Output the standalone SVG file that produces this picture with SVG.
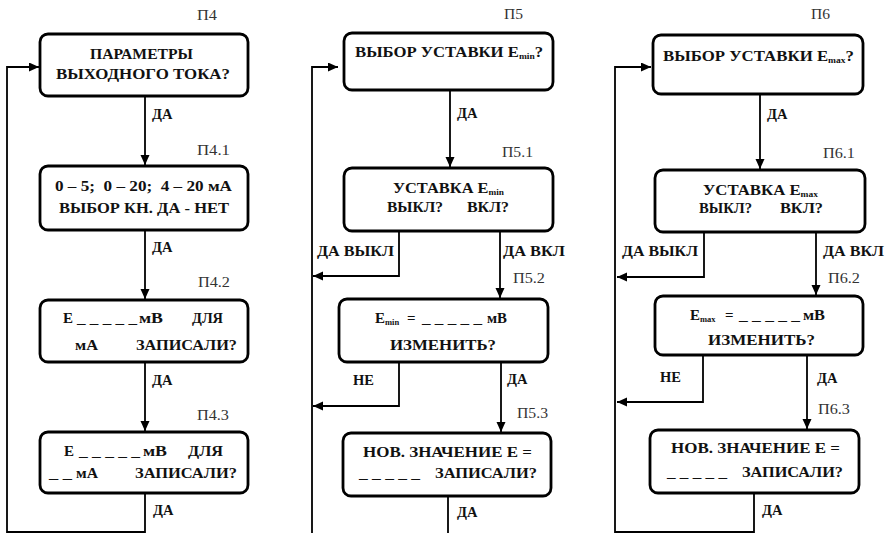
<svg xmlns="http://www.w3.org/2000/svg" width="894" height="533" viewBox="0 0 894 533">
  <defs>
    <marker id="arr" markerUnits="userSpaceOnUse" markerWidth="11" markerHeight="10" refX="10" refY="4.5" orient="auto">
      <path d="M0,0 L10,4.5 L0,9 z" fill="#000"/>
    </marker>
    <style>
      .box { fill: #fff; stroke: #000; stroke-width: 2.8; }
      .t { font-family: "Liberation Serif", "DejaVu Serif", serif; font-weight: bold; font-size: 15px; fill: #111; }
      .sub { font-family: "Liberation Serif", "DejaVu Serif", serif; font-weight: bold; font-size: 8.5px; fill: #111; }
      .lbl { font-family: "Liberation Serif", "DejaVu Serif", serif; font-weight: bold; font-size: 14.5px; fill: #111; }
      .id { font-family: "Liberation Serif", "DejaVu Serif", serif; font-size: 14px; fill: #333; }
      .c { fill: none; stroke: #000; stroke-width: 1.8; }
    </style>
  </defs>
  <rect width="894" height="533" fill="#fff"/>

  <!-- connectors -->
  <g id="connectors">
    <path class="c" d="M145,96 V165" marker-end="url(#arr)"/>
    <path class="c" d="M145,230 V299" marker-end="url(#arr)"/>
    <path class="c" d="M145,362 V431" marker-end="url(#arr)"/>
    <path class="c" d="M145,493 V532 H7 V67 H39" marker-end="url(#arr)"/>

    <path class="c" d="M450,90 V167" marker-end="url(#arr)"/>
    <path class="c" d="M399,231 V276 H313" marker-end="url(#arr)"/>
    <path class="c" d="M500,231 V298" marker-end="url(#arr)"/>
    <path class="c" d="M399,362 V406 H313" marker-end="url(#arr)"/>
    <path class="c" d="M501,362 V432" marker-end="url(#arr)"/>
    <path class="c" d="M448,496 V533"/>
    <path class="c" d="M312,533 V67 H338" marker-end="url(#arr)"/>

    <path class="c" d="M760,94 V169" marker-end="url(#arr)"/>
    <path class="c" d="M704,232 V277 H617" marker-end="url(#arr)"/>
    <path class="c" d="M816,232 V295" marker-end="url(#arr)"/>
    <path class="c" d="M703,355 V402 H617" marker-end="url(#arr)"/>
    <path class="c" d="M807,355 V429" marker-end="url(#arr)"/>
    <path class="c" d="M754,493 V532 H615 V67 H651" marker-end="url(#arr)"/>

    <text class="lbl" x="152" y="119">ДА</text>
    <text class="lbl" x="152" y="252">ДА</text>
    <text class="lbl" x="152" y="385">ДА</text>
    <text class="lbl" x="153" y="515">ДА</text>

    <text class="lbl" x="457" y="118">ДА</text>
    <text class="lbl" x="317" y="256" textLength="77" lengthAdjust="spacingAndGlyphs">ДА ВЫКЛ</text>
    <text class="lbl" x="503" y="256" textLength="62" lengthAdjust="spacingAndGlyphs">ДА ВКЛ</text>
    <text class="lbl" x="353" y="385">НЕ</text>
    <text class="lbl" x="507" y="384">ДА</text>
    <text class="lbl" x="457" y="517">ДА</text>

    <text class="lbl" x="767" y="119">ДА</text>
    <text class="lbl" x="622" y="256" textLength="76" lengthAdjust="spacingAndGlyphs">ДА ВЫКЛ</text>
    <text class="lbl" x="823" y="256" textLength="61" lengthAdjust="spacingAndGlyphs">ДА ВКЛ</text>
    <text class="lbl" x="660" y="382">НЕ</text>
    <text class="lbl" x="817" y="383">ДА</text>
    <text class="lbl" x="762" y="515">ДА</text>
  </g>

  <!-- column П4 -->
  <g id="p4">
    <text class="id" x="197" y="20" textLength="20" lengthAdjust="spacingAndGlyphs">П4</text>
    <rect class="box" x="40" y="34" width="208" height="62" rx="8"/>
    <text class="t" x="90" y="59" textLength="103" lengthAdjust="spacingAndGlyphs">ПАРАМЕТРЫ</text>
    <text class="t" x="56" y="79" textLength="174" lengthAdjust="spacingAndGlyphs">ВЫХОДНОГО ТОКА?</text>
  </g>
  <g id="p4-1">
    <text class="id" x="197" y="155" textLength="33" lengthAdjust="spacingAndGlyphs">П4.1</text>
    <rect class="box" x="40" y="166" width="208" height="64" rx="8"/>
    <text class="t" x="55" y="191" textLength="177" lengthAdjust="spacingAndGlyphs" xml:space="preserve">0 – 5;  0 – 20;  4 – 20 мА</text>
    <text class="t" x="59" y="213" textLength="170" lengthAdjust="spacingAndGlyphs">ВЫБОР КН. ДА - НЕТ</text>
  </g>
  <g id="p4-2">
    <text class="id" x="198" y="287" textLength="32" lengthAdjust="spacingAndGlyphs">П4.2</text>
    <rect class="box" x="40" y="300" width="208" height="62" rx="8"/>
    <text class="t" x="63" y="323">Е</text>
    <text class="t" x="77" y="323" textLength="60" lengthAdjust="spacingAndGlyphs">_ _ _ _ _</text>
    <text class="t" x="139" y="323" textLength="24" lengthAdjust="spacingAndGlyphs">мВ</text>
    <text class="t" x="192" y="323" textLength="31" lengthAdjust="spacingAndGlyphs">ДЛЯ</text>
    <text class="t" x="75" y="350" textLength="23" lengthAdjust="spacingAndGlyphs">мА</text>
    <text class="t" x="136" y="350" textLength="101" lengthAdjust="spacingAndGlyphs">ЗАПИСАЛИ?</text>
  </g>
  <g id="p4-3">
    <text class="id" x="197" y="420" textLength="32" lengthAdjust="spacingAndGlyphs">П4.3</text>
    <rect class="box" x="40" y="432" width="208" height="61" rx="8"/>
    <text class="t" x="64" y="456">Е</text>
    <text class="t" x="79" y="456" textLength="61" lengthAdjust="spacingAndGlyphs">_ _ _ _ _</text>
    <text class="t" x="143" y="456" textLength="24" lengthAdjust="spacingAndGlyphs">мВ</text>
    <text class="t" x="188" y="456" textLength="35" lengthAdjust="spacingAndGlyphs">ДЛЯ</text>
    <text class="t" x="49" y="478" textLength="23" lengthAdjust="spacingAndGlyphs">_ _</text>
    <text class="t" x="76" y="478" textLength="22" lengthAdjust="spacingAndGlyphs">мА</text>
    <text class="t" x="135" y="478" textLength="102" lengthAdjust="spacingAndGlyphs">ЗАПИСАЛИ?</text>
  </g>

  <!-- column П5 -->
  <g id="p5">
    <text class="id" x="504" y="19" textLength="19" lengthAdjust="spacingAndGlyphs">П5</text>
    <rect class="box" x="344" y="33" width="209" height="57" rx="8"/>
    <text class="t" x="355" y="57" textLength="188" lengthAdjust="spacingAndGlyphs">ВЫБОР УСТАВКИ E<tspan class="sub" dy="2">min</tspan><tspan dy="-2">?</tspan></text>
  </g>
  <g id="p5-1">
    <text class="id" x="502" y="157" textLength="31" lengthAdjust="spacingAndGlyphs">П5.1</text>
    <rect class="box" x="344" y="168" width="209" height="63" rx="8"/>
    <text class="t" x="393" y="193" textLength="111" lengthAdjust="spacingAndGlyphs">УСТАВКА E<tspan class="sub" dy="2">min</tspan></text>
    <text class="t" x="387" y="212" textLength="56" lengthAdjust="spacingAndGlyphs">ВЫКЛ?</text>
    <text class="t" x="467" y="212" textLength="42" lengthAdjust="spacingAndGlyphs">ВКЛ?</text>
  </g>
  <g id="p5-2">
    <text class="id" x="513" y="283" textLength="32" lengthAdjust="spacingAndGlyphs">П5.2</text>
    <rect class="box" x="339" y="299" width="209" height="63" rx="8"/>
    <text class="t" x="375" y="323">E<tspan class="sub" dy="2">min</tspan></text>
    <text class="t" x="407" y="323">=</text>
    <text class="t" x="422" y="323" textLength="60" lengthAdjust="spacingAndGlyphs">_ _ _ _ _</text>
    <text class="t" x="487" y="323" textLength="20" lengthAdjust="spacingAndGlyphs">мВ</text>
    <text class="t" x="390" y="350" textLength="106" lengthAdjust="spacingAndGlyphs">ИЗМЕНИТЬ?</text>
  </g>
  <g id="p5-3">
    <text class="id" x="517" y="418" textLength="31" lengthAdjust="spacingAndGlyphs">П5.3</text>
    <rect class="box" x="343" y="433" width="208" height="63" rx="8"/>
    <text class="t" x="363" y="457" textLength="169" lengthAdjust="spacingAndGlyphs">НОВ. ЗНАЧЕНИЕ Е =</text>
    <text class="t" x="359" y="478" textLength="61" lengthAdjust="spacingAndGlyphs">_ _ _ _ _</text>
    <text class="t" x="435" y="478" textLength="102" lengthAdjust="spacingAndGlyphs">ЗАПИСАЛИ?</text>
  </g>

  <!-- column П6 -->
  <g id="p6">
    <text class="id" x="811" y="19" textLength="19" lengthAdjust="spacingAndGlyphs">П6</text>
    <rect class="box" x="653" y="35" width="210" height="59" rx="8"/>
    <text class="t" x="663" y="61" textLength="191" lengthAdjust="spacingAndGlyphs">ВЫБОР УСТАВКИ E<tspan class="sub" dy="2">max</tspan><tspan dy="-2">?</tspan></text>
  </g>
  <g id="p6-1">
    <text class="id" x="823" y="158" textLength="32" lengthAdjust="spacingAndGlyphs">П6.1</text>
    <rect class="box" x="655" y="170" width="210" height="62" rx="8"/>
    <text class="t" x="703" y="195" textLength="115" lengthAdjust="spacingAndGlyphs">УСТАВКА E<tspan class="sub" dy="2">max</tspan></text>
    <text class="t" x="699" y="213" textLength="53" lengthAdjust="spacingAndGlyphs">ВЫКЛ?</text>
    <text class="t" x="780" y="213" textLength="43" lengthAdjust="spacingAndGlyphs">ВКЛ?</text>
  </g>
  <g id="p6-2">
    <text class="id" x="828" y="283" textLength="32" lengthAdjust="spacingAndGlyphs">П6.2</text>
    <rect class="box" x="655" y="296" width="208" height="59" rx="8"/>
    <text class="t" x="690" y="320">E<tspan class="sub" dy="2">max</tspan></text>
    <text class="t" x="725" y="320">=</text>
    <text class="t" x="739" y="320" textLength="61" lengthAdjust="spacingAndGlyphs">_ _ _ _ _</text>
    <text class="t" x="803" y="320" textLength="22" lengthAdjust="spacingAndGlyphs">мВ</text>
    <text class="t" x="708" y="345" textLength="107" lengthAdjust="spacingAndGlyphs">ИЗМЕНИТЬ?</text>
  </g>
  <g id="p6-3">
    <text class="id" x="818" y="414" textLength="32" lengthAdjust="spacingAndGlyphs">П6.3</text>
    <rect class="box" x="650" y="430" width="209" height="63" rx="8"/>
    <text class="t" x="671" y="453" textLength="169" lengthAdjust="spacingAndGlyphs">НОВ. ЗНАЧЕНИЕ Е =</text>
    <text class="t" x="667" y="477" textLength="60" lengthAdjust="spacingAndGlyphs">_ _ _ _ _</text>
    <text class="t" x="742" y="477" textLength="101" lengthAdjust="spacingAndGlyphs">ЗАПИСАЛИ?</text>
  </g>
</svg>
